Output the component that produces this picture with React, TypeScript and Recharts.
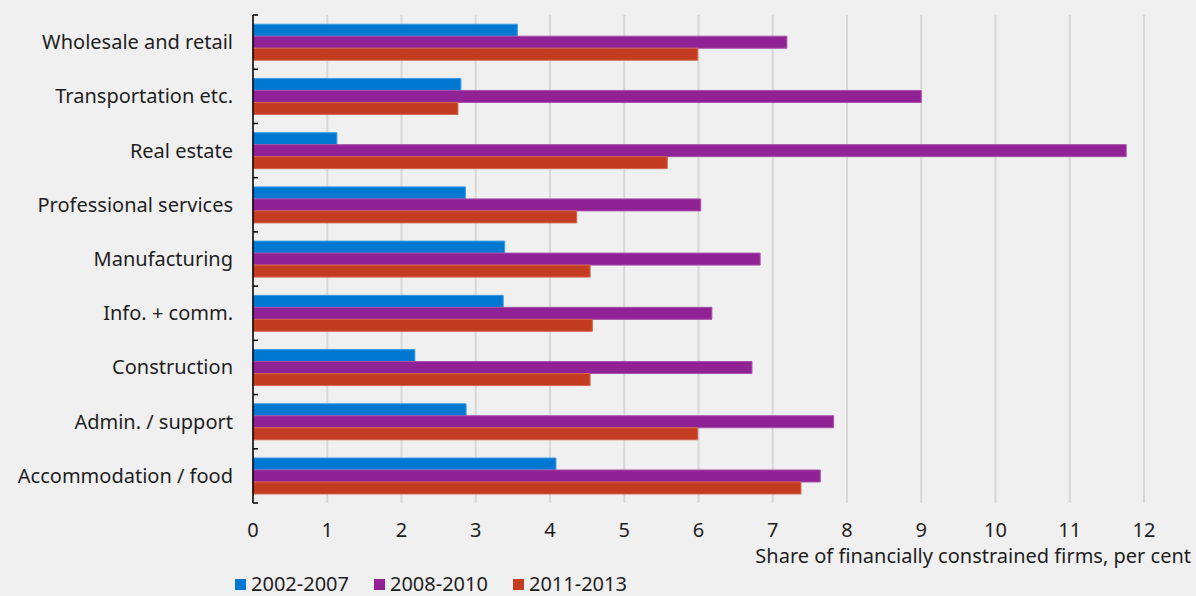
import React from 'react';
import { BarChart, Bar, XAxis, YAxis, CartesianGrid, Legend } from 'recharts';

const categories = [
    'Wholesale and retail',
    'Transportation etc.',
    'Real estate',
    'Professional services',
    'Manufacturing',
    'Info. + comm.',
    'Construction',
    'Admin. / support ',
    'Accommodation / food',
];
const s2002_2007 = [3.56, 2.8, 1.13, 2.86, 3.39, 3.37, 2.18, 2.87, 4.08];
const s2008_2010 = [7.19, 9.0, 11.76, 6.03, 6.83, 6.18, 6.72, 7.82, 7.64];
const s2011_2013 = [5.99, 2.76, 5.58, 4.36, 4.54, 4.57, 4.54, 5.99, 7.38];
const xTicks = [0, 1, 2, 3, 4, 5, 6, 7, 8, 9, 10, 11, 12];

const series = [
    { key: 'a', name: '2002-2007', color: '#0078D2', edge: '#3d9be3' },
    { key: 'b', name: '2008-2010', color: '#912295', edge: '#a84fab' },
    { key: 'c', name: '2011-2013', color: '#C33B21', edge: '#d2654f' },
];

const data = categories.map((name, i) => ({
    name,
    a: s2002_2007[i],
    b: s2008_2010[i],
    c: s2011_2013[i],
}));

const FONT = '"Noto Sans", sans-serif';
const TEXT = '#1e1e1e';
const FS = 20;
const W = 1196;
const H = 596;
const TOP = 15;
const PLOT_BOTTOM = 503;
const BAND = (PLOT_BOTTOM - TOP) / categories.length;

function CategoryTick(props: any) {
    const { x, y, payload, index } = props;
    const axisX = x + 20;
    return (
        <g>
            <text x={x} y={y} dy={7} textAnchor="end" fill={TEXT} fontSize={FS} fontFamily={FONT}>
                {payload.value}
            </text>
            <line x1={axisX} x2={axisX + 5} y1={y - BAND / 2} y2={y - BAND / 2} stroke="#000" strokeWidth={1.5} />
            {index === categories.length - 1 && (
                <line x1={axisX} x2={axisX + 5} y1={y + BAND / 2} y2={y + BAND / 2} stroke="#000" strokeWidth={1.5} />
            )}
        </g>
    );
}

function LegendContent() {
    return (
        <div style={{ display: 'flex', gap: 25, fontFamily: FONT, fontSize: FS, color: TEXT, lineHeight: '20px' }}>
            {series.map((s) => (
                <div key={s.key} style={{ display: 'flex', alignItems: 'center', gap: 5 }}>
                    <div style={{ width: 11, height: 11, backgroundColor: s.color }} />
                    <span>{s.name}</span>
                </div>
            ))}
        </div>
    );
}

export default function App() {
    return (
        <div style={{ position: 'absolute', left: 0, top: 0, width: W, height: H, background: '#f0f0f0', overflow: 'hidden' }}>
            <BarChart
                width={W}
                height={H}
                data={data}
                layout="vertical"
                margin={{ top: TOP, right: 52, bottom: 0, left: 0 }}
                barCategoryGap="17%"
                barGap={0}
            >
                <CartesianGrid horizontal={false} stroke="#d8d8d8" strokeWidth={2} />
                <XAxis
                    type="number"
                    domain={[0, 12]}
                    ticks={xTicks}
                    interval={0}
                    axisLine={false}
                    tickLine={false}
                    tickMargin={14}
                    height={71}
                    tick={{ fill: TEXT, fontSize: FS, fontFamily: FONT }}
                    label={{
                        value: 'Share of financially constrained firms, per cent',
                        position: 'insideBottomRight',
                        offset: 11,
                        dx: 58,
                        fill: TEXT,
                        fontSize: FS,
                        fontFamily: FONT,
                    }}
                />
                <YAxis
                    type="category"
                    dataKey="name"
                    width={253}
                    axisLine={{ stroke: '#000', strokeWidth: 1.5 }}
                    tickLine={false}
                    tickSize={0}
                    tickMargin={20}
                    interval={0}
                    tick={<CategoryTick />}
                />
                <Legend
                    verticalAlign="bottom"
                    align="left"
                    height={22}
                    content={<LegendContent />}
                    wrapperStyle={{ left: 235, bottom: 0 }}
                />
                {series.map((s) => (
                    <Bar
                        key={s.key}
                        dataKey={s.key}
                        name={s.name}
                        fill={s.color}
                        stroke={s.edge}
                        strokeWidth={1}
                        isAnimationActive={false}
                    />
                ))}
            </BarChart>
        </div>
    );
}
